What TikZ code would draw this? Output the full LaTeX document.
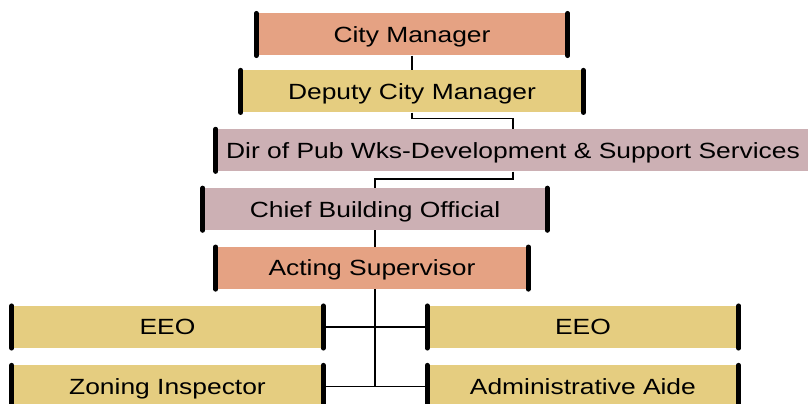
\documentclass[tikz,border=0pt]{standalone}
\usepackage{fontspec}
\setmainfont{Liberation Sans}[FakeStretch=1.2]
\definecolor{Salmon}{HTML}{E5A283}
\definecolor{Sand}{HTML}{E5CD80}
\definecolor{Mauve}{HTML}{CCB0B4}
\usetikzlibrary{positioning}

\begin{document}
\begin{tikzpicture}[
  x=1pt,y=1pt,
  font=\fontsize{22}{26}\selectfont,
  post/.style={rectangle,inner sep=0pt,minimum height=42pt,
    text height=15.7pt,text depth=0pt,align=center},
  lead/.style={post,fill=Salmon},
  staff/.style={post,fill=Sand},
  admin/.style={post,fill=Mauve},
  bar/.style={line width=4.7pt,line cap=round,draw=black},
  link/.style={line width=1.6pt,draw=black}
]
\clip (0,0) rectangle (808,-404);

\node[lead,minimum width=311pt] (cm) at (412,-34.5) {City Manager};
\node[staff,minimum width=342pt,below=14.5pt of cm] (dcm) {Deputy City Manager};
\node[admin,minimum width=594pt,below=16.5pt of dcm,xshift=101pt] (dir)
  {Dir of Pub Wks-Development \& Support Services};
\node[admin,minimum width=344pt,below=16.5pt of dir,xshift=-138pt] (chief)
  {Chief Building Official};
\node[lead,minimum width=312pt,below=16.5pt of chief,xshift=-3pt] (acting)
  {Acting Supervisor};
\node[staff,minimum width=311pt,below=16.5pt of acting,xshift=-204.5pt] (eeoL) {EEO};
\node[staff,minimum width=311pt,right=104pt of eeoL] (eeoR) {EEO};
\node[staff,minimum width=311pt,below=17pt of eeoL] (zon) {Zoning Inspector};
\node[staff,minimum width=311pt,right=104pt of zon] (aide) {Administrative Aide};

% reporting lines
\draw[link] (cm.south) -- (dcm.north);
\draw[link] (dcm.south) -- ++(0,-6) -| (dir.north);
\draw[link] (dir.south) -- ++(0,-7.5) -| (chief.north);
\draw[link] (chief.south) -- (chief.south |- acting.north);
\draw[link] (acting.south -| chief.south) -- (chief.south |- zon.east);
\draw[link] (eeoL.east) -- (eeoR.west);
\draw[link] (zon.east) -- (aide.west);

% end bars on each box
\foreach \n in {cm,dcm,dir,chief,acting,eeoL,eeoR,zon,aide}
  \draw[bar] (\n.north west) -- (\n.south west)
             (\n.north east) -- (\n.south east);
\end{tikzpicture}
\end{document}
